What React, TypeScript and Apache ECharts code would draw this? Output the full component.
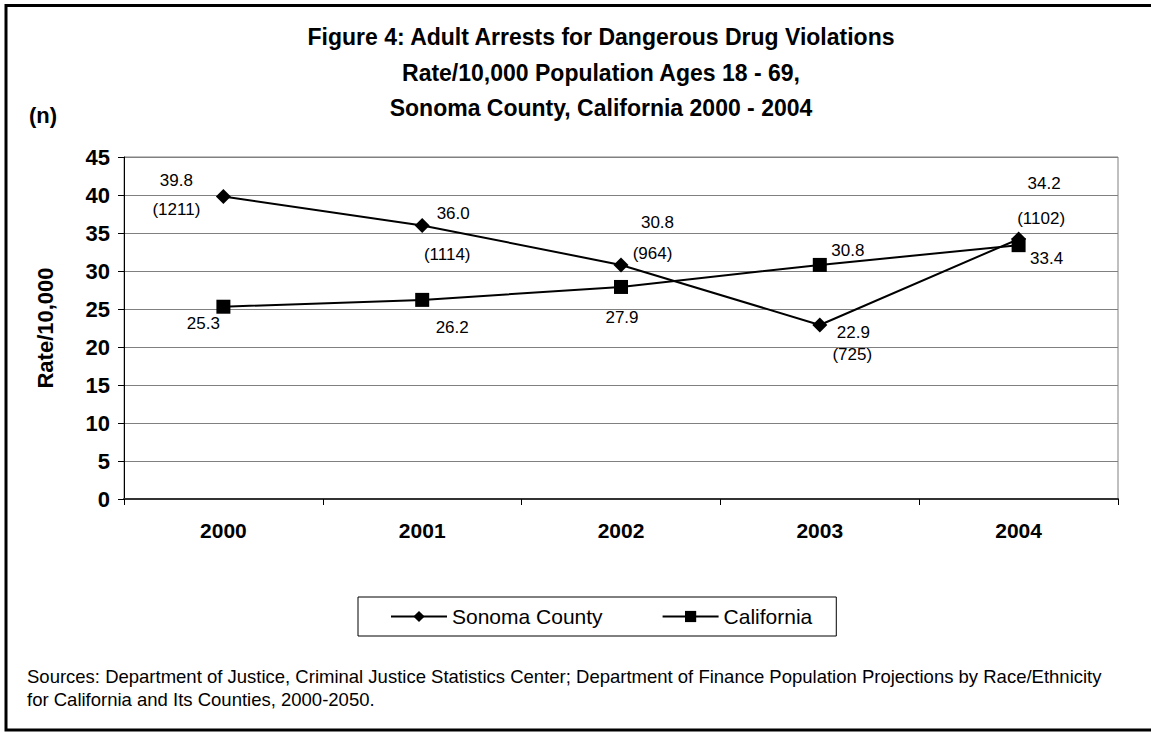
import React, { useEffect, useRef } from "react";
import * as echarts from "echarts";

// Categories and values
const years = ["2000", "2001", "2002", "2003", "2004"];
const sonomaRates = [39.8, 36.0, 30.8, 22.9, 34.2];
const sonomaCounts = [1211, 1114, 964, 725, 1102];
const californiaRates = [25.3, 26.2, 27.9, 30.8, 33.4];

const titleLines = [
  "Figure 4: Adult Arrests for Dangerous Drug Violations",
  "Rate/10,000 Population Ages 18 - 69,",
  "Sonoma County, California 2000 - 2004",
];
const sourceLines = [
  "Sources: Department of Justice, Criminal Justice Statistics Center; Department of Finance Population Projections by Race/Ethnicity",
  "for California and Its Counties, 2000-2050.",
];

const FONT = "'Liberation Sans', Arial, Helvetica, sans-serif";

// Per-point placement of the Sonoma labels: centre offset, line spacing,
// and a small horizontal nudge between the rate line and the count line.
const sonomaLabelPlacement = [
  { dx: -47, dy: -1.5, gap: 29, shift: 0 },
  { dx: 28, dy: 8.5, gap: 41, shift: 3 },
  { dx: 34, dy: -26.5, gap: 31, shift: 2.5 },
  { dx: 33, dy: 19, gap: 22, shift: 0.5 },
  { dx: 24, dy: -38.5, gap: 35, shift: 1.5 },
];
const californiaLabelOffsets = [
  [-20, 17],
  [30, 28],
  [1, 31],
  [28, -14.5],
  [28, 13],
];

export default function App() {
  const ref = useRef<HTMLDivElement>(null);

  useEffect(() => {
    if (!ref.current) return;
    const chart = echarts.init(ref.current, undefined, { renderer: "svg" });

    const sonomaData = sonomaRates.map((v, i) => {
      const p = sonomaLabelPlacement[i];
      return {
        value: v,
        label: {
          offset: [p.dx, p.dy],
          rich: {
            v: {
              fontSize: 17,
              fontFamily: FONT,
              color: "#000",
              lineHeight: p.gap,
              padding: [0, 0, 0, p.shift * 2],
            },
            n: {
              fontSize: 17,
              fontFamily: FONT,
              color: "#000",
              lineHeight: p.gap,
              padding: [0, p.shift * 2, 0, 0],
            },
          },
        },
      };
    });

    const californiaData = californiaRates.map((v, i) => ({
      value: v,
      label: { offset: californiaLabelOffsets[i] },
    }));

    const option: any = {
      animation: false,
      backgroundColor: "#fff",
      textStyle: { fontFamily: FONT, color: "#000" },
      grid: {
        left: 124,
        right: 33,
        top: 157,
        bottom: 233,
        show: true,
        borderColor: "#808080",
        borderWidth: 1,
        containLabel: false,
      },
      legend: {
        left: 358,
        top: 597,
        padding: [9, 24, 9, 32],
        borderColor: "#000",
        borderWidth: 1,
        itemWidth: 56,
        itemHeight: 14,
        itemGap: 59,
        textStyle: { fontSize: 21, fontFamily: FONT, color: "#000" },
        data: ["Sonoma County", "California"],
      },
      xAxis: {
        type: "category",
        data: years,
        boundaryGap: true,
        axisLine: { show: true, lineStyle: { color: "#333", width: 2 } },
        axisTick: { show: true, length: 6, lineStyle: { color: "#000", width: 1 } },
        axisLabel: {
          fontSize: 21,
          fontWeight: "bold",
          fontFamily: FONT,
          color: "#000",
          margin: 21,
        },
        splitLine: { show: false },
      },
      yAxis: {
        type: "value",
        min: 0,
        max: 45,
        interval: 5,
        name: "Rate/10,000",
        nameLocation: "middle",
        nameGap: 68,
        nameRotate: 90,
        nameTextStyle: { fontSize: 22, fontWeight: "bold", fontFamily: FONT, color: "#000" },
        axisLine: { show: true, lineStyle: { color: "#000", width: 1 } },
        axisTick: { show: true, length: 6, lineStyle: { color: "#000" } },
        axisLabel: {
          fontSize: 22,
          fontWeight: "bold",
          fontFamily: FONT,
          color: "#000",
          margin: 14,
        },
        splitLine: { show: true, lineStyle: { color: "#808080", width: 1 } },
      },
      series: [
        {
          name: "Sonoma County",
          type: "line",
          data: sonomaData,
          symbol: "diamond",
          symbolSize: 15,
          itemStyle: { color: "#000" },
          lineStyle: { color: "#000", width: 2 },
          label: {
            show: true,
            position: "inside",
            color: "#000",
            fontSize: 17,
            fontFamily: FONT,
            formatter: (p: any) =>
              `{v|${Number(p.value).toFixed(1)}}\n{n|(${sonomaCounts[p.dataIndex]})}`,
          },
          z: 3,
        },
        {
          name: "California",
          type: "line",
          data: californiaData,
          symbol: "rect",
          symbolSize: 14,
          itemStyle: { color: "#000" },
          lineStyle: { color: "#000", width: 2 },
          label: {
            show: true,
            position: "inside",
            color: "#000",
            fontSize: 17,
            fontFamily: FONT,
            formatter: (p: any) => Number(p.value).toFixed(1),
          },
          z: 2,
        },
      ],
      graphic: [
        {
          type: "rect",
          shape: { x: 6, y: 5.5, width: 1200, height: 724.5 },
          style: { fill: "none", stroke: "#000", lineWidth: 3 },
          silent: true,
          z: 100,
        },
        ...titleLines.map((t, i) => ({
          type: "text",
          x: 601,
          y: 37 + i * 35.5,
          style: {
            text: t,
            fontSize: 23,
            fontWeight: "bold",
            fontFamily: FONT,
            fill: "#000",
            textAlign: "center",
            textVerticalAlign: "middle",
          },
        })),
        {
          type: "text",
          x: 43,
          y: 115,
          style: {
            text: "(n)",
            fontSize: 22,
            fontWeight: "bold",
            fontFamily: FONT,
            fill: "#000",
            textAlign: "center",
            textVerticalAlign: "middle",
          },
        },
        ...sourceLines.map((t, i) => ({
          type: "text",
          x: 27,
          y: 676 + i * 23,
          style: {
            text: t,
            fontSize: 18.5,
            fontFamily: FONT,
            fill: "#000",
            textAlign: "left",
            textVerticalAlign: "middle",
          },
        })),
      ],
    };

    chart.setOption(option);
    return () => chart.dispose();
  }, []);

  return (
    <div
      ref={ref}
      style={{ position: "fixed", left: 0, top: 0, width: 1151, height: 732 }}
    />
  );
}
